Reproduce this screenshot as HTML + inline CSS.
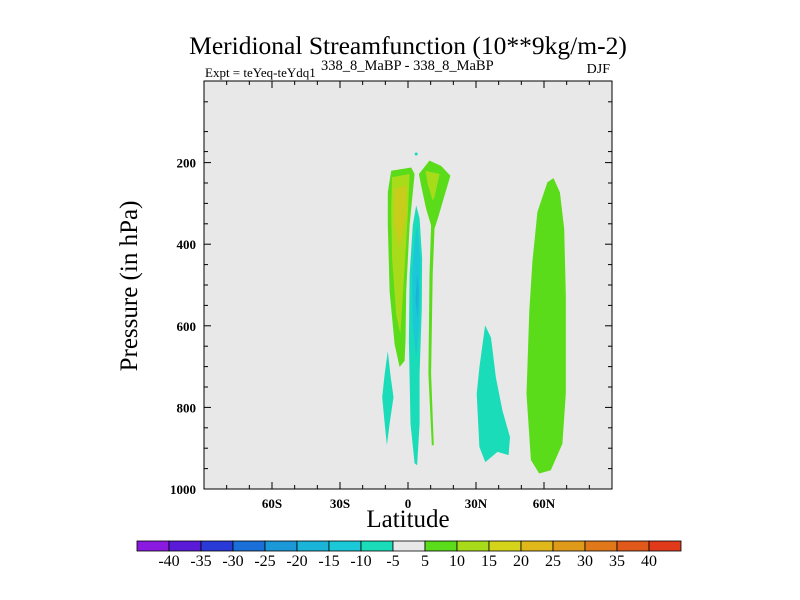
<!DOCTYPE html>
<html><head><meta charset="utf-8"><style>
body{margin:0;background:#fff;}
svg{display:block;font-family:"Liberation Serif",serif;}
</style></head><body>
<svg id="chart" width="800" height="600">
<text x="408" y="54" font-size="25.5" text-anchor="middle">Meridional Streamfunction (10**9kg/m-2)</text>
<text x="205" y="77" font-size="13">Expt = teYeq-teYdq1</text>
<text x="321" y="70" font-size="14.5">338_8_MaBP - 338_8_MaBP</text>
<text x="610" y="73" font-size="14" text-anchor="end">DJF</text>
<rect x="204" y="81" width="408" height="408" fill="#e8e8e8"/>
<g id="fills"></g>
<rect x="204" y="81" width="408" height="408" fill="none" stroke="#000" stroke-width="1"/>
<g id="ticks"></g>
<text transform="translate(137,286) rotate(-90)" font-size="25" text-anchor="middle">Pressure (in hPa)</text>
<text x="408" y="527" font-size="25" text-anchor="middle">Latitude</text>
<g id="colorbar"></g>
</svg>
<script>
const latTicks=[-60,-30,0,30,60];
const latTickLabels=["60S","30S","0","30N","60N"];
const presTicks=[200,400,600,800,1000];
const presMinor=[51,124,173,250,300,350,450,500,550,650,700,750,850,900,950];
const cbLevels=[-40,-35,-30,-25,-20,-15,-10,-5,5,10,15,20,25,30,35,40];
const cbColors=["#8a1ae0","#5a1ad8","#2a3ad8","#1a70d8","#1a98d8","#1ab4d8","#1ac8d8","#1adcb8","#e8e8e8","#5adc1a","#a8dc1a","#d4d41a","#e0b81a","#e09a1a","#e0781a","#e0581a","#e03a1a"];
// contour regions: level colour + polygon vertices (lat, pressure hPa)
const regionColors=["#5adc1a","#a8dc1a","#c8cc1a","#5adc1a","#a8dc1a","#1adcb8","#1ac8d8","#1ab4d8","#1adcb8","#1adcb8","#5adc1a"];
const regionLat=[
[-7.4,1.4,2.9,0.7,-0.8,-1.1,-1.5,-3.7,-5.9,-8.1,-8.9,-8.9],
[-7,0.7,-0.1,-1.5,-3.4,-5.2,-7,-7.4],
[-5.9,-0.8,-0.8,-3.7,-5.9],
[4.8,9.5,14.6,18.7,16.1,13.1,11.7,10.9,10.2,11.4,10.5,9,9.5,10.2,8,5.8],
[7.7,13.9,11.7,10.9,8.7],
[3.6,5.1,6.2,6.1,5.1,5.1,4,2.9,1.1,0.4,0.7,2.1],
[4,5.4,5.1,3.6,2.1,1.8,2.9],
[4,4.8,4.3,3.3],
[-8.9,-7.8,-6.4,-8.1,-9.3,-10.3,-11.4,-10.3],
[34,36.6,38.8,41.7,45,44.4,39.5,34.1,31.5,30.3,31.5],
[64.2,67,68.9,69.6,69.6,68.1,63,57.9,54.2,52.3,53.5,54.9,57.1,61.5]];
const regionPres=[
[220,212,228,353,516,637,686,701,645,516,353,272],
[236,228,328,459,620,572,435,313],
[264,256,328,410,353],
[228,195,208,232,281,338,362,475,718,893,893,718,475,354,313,256],
[220,228,285,293,252],
[305,337,435,556,718,840,942,937,840,637,475,354],
[354,435,597,678,597,475,394],
[467,516,581,540],
[662,718,775,840,893,840,775,718],
[599,629,727,808,873,917,909,934,897,767,702],
[238,273,362,524,767,889,954,962,929,767,564,443,321,248]];
const dotLat=[3.6], dotPres=[179];

const X0=204,X1=612,Y0=81,Y1=489;
const xs=lat=>X0+(lat+90)/180*(X1-X0);
const ys=p=>Y0+p/1000*(Y1-Y0);
const NS="http://www.w3.org/2000/svg";
function mk(tag,attrs,parent){const e=document.createElementNS(NS,tag);for(const k in attrs)e.setAttribute(k,attrs[k]);parent.appendChild(e);return e;}
const fills=document.getElementById('fills');
regionLat.forEach((lats,i)=>{
  const pts=lats.map((l,j)=>xs(l).toFixed(1)+","+ys(regionPres[i][j]).toFixed(1)).join(" ");
  const el=mk('polygon',{points:pts,fill:regionColors[i],"stroke-linejoin":"round"},fills);
  
  
});
dotLat.forEach((l,i)=>{
  const el=mk('circle',{cx:xs(l),cy:ys(dotPres[i]),r:1.5,fill:"#1adcb8"},fills);
  
  
});
const tk=document.getElementById('ticks');
for(let l=-80;l<=80;l+=10){
  const major=(l%30===0);const len=major?7:4;const x=xs(l);
  const a=mk('line',{x1:x,x2:x,y1:Y1,y2:Y1-len,stroke:"#000"},tk);
  
  
  const b=mk('line',{x1:x,x2:x,y1:Y0,y2:Y0+len,stroke:"#000"},tk);
  
  
}
latTicks.forEach((l,i)=>{
  const t=mk('text',{x:xs(l),y:508,"font-size":13,"font-weight":"bold","text-anchor":"middle"},tk);
  t.textContent=latTickLabels[i];
  
  
});
presTicks.forEach(p=>{
  const y=ys(p);
  const a=mk('line',{x1:X0,x2:X0+7,y1:y,y2:y,stroke:"#000"},tk);
  
  
  const b=mk('line',{x1:X1,x2:X1-7,y1:y,y2:y,stroke:"#000"},tk);
  
  
  const t=mk('text',{x:196,y:y+5,"font-size":13,"font-weight":"bold","text-anchor":"end"},tk);
  t.textContent=p;
  
  
});
presMinor.forEach(p=>{
  const y=ys(p);
  const a=mk('line',{x1:X0,x2:X0+4,y1:y,y2:y,stroke:"#000"},tk);
  
  
  const b=mk('line',{x1:X1,x2:X1-4,y1:y,y2:y,stroke:"#000"},tk);
  
  
});
const cb=document.getElementById('colorbar');
const CBX=137,CBW=32,CBY=541,CBH=10;
cbColors.forEach((c,i)=>{
  const r=mk('rect',{x:CBX+i*CBW,y:CBY,width:CBW,height:CBH,fill:c,stroke:"#000","stroke-width":0.8},cb);
  
  
});
cbLevels.forEach((v,i)=>{
  const t=mk('text',{x:CBX+(i+1)*CBW,y:566,"font-size":16,"text-anchor":"middle"},cb);
  t.textContent=v;
  
  
});
</script>
</body></html>
